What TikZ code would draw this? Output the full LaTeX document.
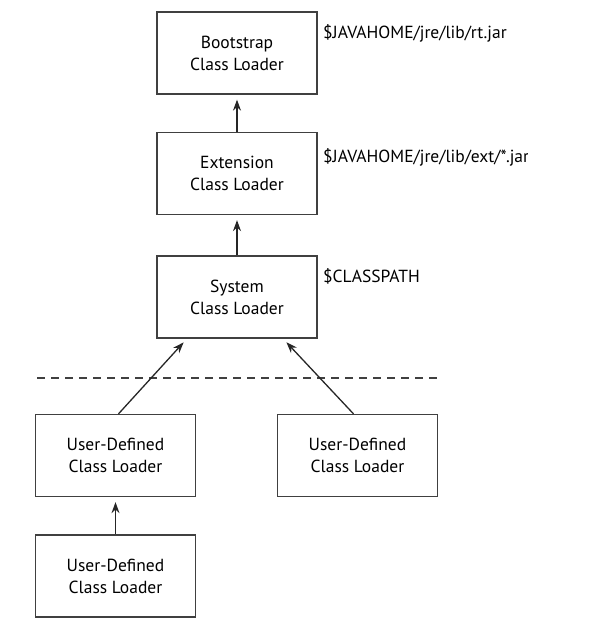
\documentclass[tikz,border=0pt]{standalone}
\usepackage{fontspec}
\setmainfont{PT Sans}
\usetikzlibrary{arrows.meta}
\tikzset{arr/.style={line width=1.3pt,draw=black!85,-{Stealth[length=11pt,width=8pt]},shorten >=5pt}}
\begin{document}
\begin{tikzpicture}[x=1pt,y=1pt]
\tikzstyle{loader} = [draw=black!75,line width=1.3,minimum width=160,minimum height=82,align=center,font=\fontsize{17.5}{22}\selectfont,inner sep=0];
\tikzstyle{where} = [anchor=base west,font=\fontsize{17.5}{22}\selectfont,inner sep=0];
\useasboundingbox (0,0) rectangle (589,-621);
\node [loader] (boot) at (237,-53) {Bootstrap\\Class Loader};
\node [loader] (ext) at (237,-173.5) {Extension\\Class Loader};
\node [loader] (sys) at (237,-297) {System\\Class Loader};
\node [loader] (user1) at (115.5,-455.5) {User-Defined\\Class Loader};
\node [loader] (user2) at (357.5,-455.5) {User-Defined\\Class Loader};
\node [loader] (user3) at (115.5,-576) {User-Defined\\Class Loader};

\node [where] (bootpath) at (323,-38) {\$JAVAHOME/jre/lib/rt.jar};
\begin{scope}
\clip (0,0) rectangle (527,-621);
\node [where] (extpath) at (323,-162) {\$JAVAHOME/jre/lib/ext/*.jar};
\end{scope}
\node [where] (syspath) at (323,-282) {\$CLASSPATH};

\coordinate (lineL) at (37,-378);
\coordinate (lineR) at (442,-378);
\draw [dashed,line width=1.2,black!75,dash pattern=on 8 off 6] (lineL) -- (lineR);

\draw [arr] (ext) -- (boot);
\draw [arr] (sys) -- (ext);
\draw [arr] ([xshift=3]user1.north) -- ([xshift=-50]sys.south);
\draw [arr] ([xshift=-4]user2.north) -- ([xshift=46]sys.south);
\draw [arr] (user3) -- (user1);
\end{tikzpicture}
\end{document}
